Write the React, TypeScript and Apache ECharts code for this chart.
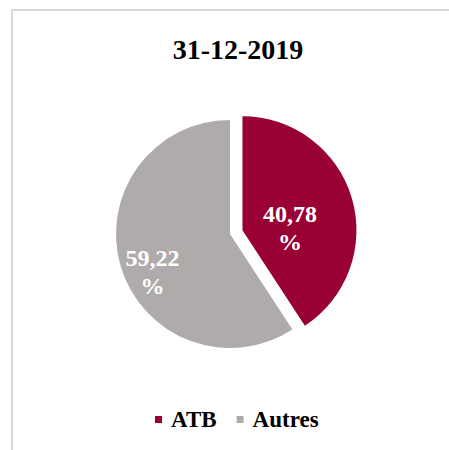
import React, { useEffect, useRef } from "react";
import * as echarts from "echarts";

const title = "31-12-2019";
const categories = ["ATB", "Autres"];
const values = [40.78, 59.22];
const labels = ["40,78\n%", "59,22\n%"];
const colors = ["#990033", "#AFABAB"];

export default function App() {
  const ref = useRef<HTMLDivElement>(null);
  useEffect(() => {
    if (!ref.current) return;
    const chart = echarts.init(ref.current, undefined, { renderer: "svg" });
    const fontFamily = "'Liberation Serif', 'Times New Roman', serif";
    const redOffset = [-10, 15];
    const grayOffset = [-20, 21];
    chart.setOption({
      animation: false,
      backgroundColor: "#ffffff",
      title: {
        text: title,
        left: 233,
        textAlign: "center",
        top: 30,
        textStyle: { fontFamily, fontWeight: "bold", fontSize: 28, color: "#000" },
      },
      legend: {
        data: categories,
        bottom: 14,
        left: 150,
        icon: "rect",
        itemWidth: 7,
        itemHeight: 7,
        itemGap: 20,
        textStyle: { fontFamily, fontWeight: "bold", fontSize: 23, color: "#000", padding: [0, 0, 0, 4] },
        selectedMode: false,
      },
      graphic: [
        { type: "line", shape: { x1: 12, y1: 10, x2: 449, y2: 10 }, style: { stroke: "#d9d9d9", lineWidth: 2 } },
        { type: "line", shape: { x1: 12, y1: 10, x2: 12, y2: 450 }, style: { stroke: "#d9d9d9", lineWidth: 2 } },
      ],
      series: [
        {
          type: "pie",
          center: [230, 234],
          radius: 114,
          startAngle: 90,
          clockwise: true,
          selectedMode: "single",
          selectedOffset: 13,
          emphasis: { disabled: true },
          labelLine: { show: false },
          label: {
            show: true,
            position: "inside",
            fontFamily,
            fontWeight: "bold",
            fontSize: 24,
            color: "#fff",
            lineHeight: 28,
          },
          data: [
            {
              name: categories[0],
              value: values[0],
              selected: true,
              itemStyle: { color: colors[0] },
              label: { formatter: labels[0], offset: redOffset },
              select: { label: { offset: redOffset }, itemStyle: { color: colors[0] } },
            },
            {
              name: categories[1],
              value: values[1],
              itemStyle: { color: colors[1] },
              label: { formatter: labels[1], offset: grayOffset },
            },
          ],
        },
      ],
    });
    return () => chart.dispose();
  }, []);
  return (
    <div
      ref={ref}
      style={{ position: "fixed", left: 0, top: 0, width: 449, height: 450 }}
    />
  );
}
